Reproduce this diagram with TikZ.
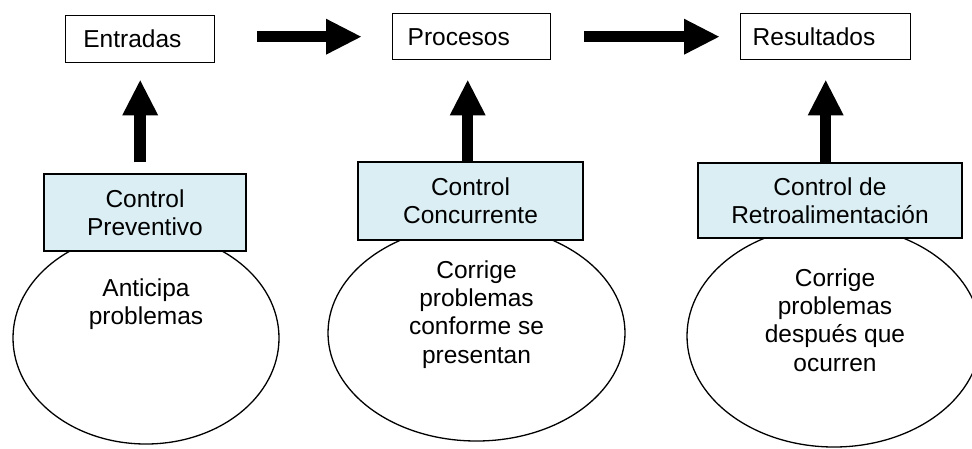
\documentclass[tikz,border=0pt]{standalone}
\usepackage{fontspec}
\setmainfont{Liberation Sans}
\usetikzlibrary{arrows.meta,shapes.geometric}
\definecolor{ctrlfill}{RGB}{218,238,243}
\begin{document}
\begin{tikzpicture}[x=1pt,y=-1pt,
  every node/.style={font=\fontsize{24.5}{28.2}\selectfont},
  topbox/.style={draw, line width=1.4pt, inner ysep=0pt, minimum height=47pt, anchor=north west},
  ctrlbox/.style={draw, line width=1.4pt, fill=ctrlfill, align=center, inner sep=0pt},
  oval/.style={draw, ellipse, line width=1.3pt, inner sep=0pt},
  otext/.style={align=center, inner sep=0pt, anchor=north},
  flow/.style={line width=11.5pt, -{Triangle[length=35pt,width=36pt,line width=0pt]}}
]
\useasboundingbox (0,0) rectangle (972,448);
% ovals
\node[oval, minimum width=266pt, minimum height=212pt] (e1) at (146,338) {};
\node[oval, minimum width=297pt, minimum height=216pt] (e2) at (476.5,333) {};
\node[oval, minimum width=294pt, minimum height=222pt] (e3) at (834,336) {};
% top boxes
\node[topbox, inner xsep=17.7pt] (ent) at (65,15) {\makebox[113.6pt][l]{Entradas}};
\node[topbox, inner xsep=15pt, minimum height=46pt] (pro) at (392,13) {\makebox[128pt][l]{Procesos}};
\node[topbox, inner xsep=12pt, minimum height=46pt] (res) at (740,13) {\makebox[146pt][l]{Resultados}};
% control boxes
\node[ctrlbox, minimum width=202pt, minimum height=77pt] (c1) at (145,212.5) {Control\\Preventivo};
\node[ctrlbox, minimum width=225pt, minimum height=78pt] (c2) at (470.5,201) {Control\\Concurrente};
\node[ctrlbox, minimum width=264pt, minimum height=75pt] (c3) at (830,200.5) {Control de\\Retroalimentación};
% oval texts
\node[otext] (t1) at (146,278.5) {Anticipa\\problemas};
\node[otext] (t2) at (476.5,260.5) {Corrige\\problemas\\conforme se\\presentan};
\node[otext] (t3) at (835,268.5) {Corrige\\problemas\\después que\\ocurren};
% flow arrows
\draw[flow] ([xshift=42pt]ent.east |- pro.west) -- ([xshift=-31pt]pro.west);
\draw[flow] ([xshift=33pt]pro.east) -- ([xshift=-21pt]res.west);
% control arrows
\draw[flow] ([yshift=11pt]c1.north -| ent.south) -- ([yshift=-17pt]ent.south);
\draw[flow] ([xshift=-4pt]pro.south |- c2.north) -- ([xshift=-4pt,yshift=-20pt]pro.south);
\draw[flow] (res.south |- c3.north) -- ([yshift=-20pt]res.south);
\end{tikzpicture}
\end{document}
